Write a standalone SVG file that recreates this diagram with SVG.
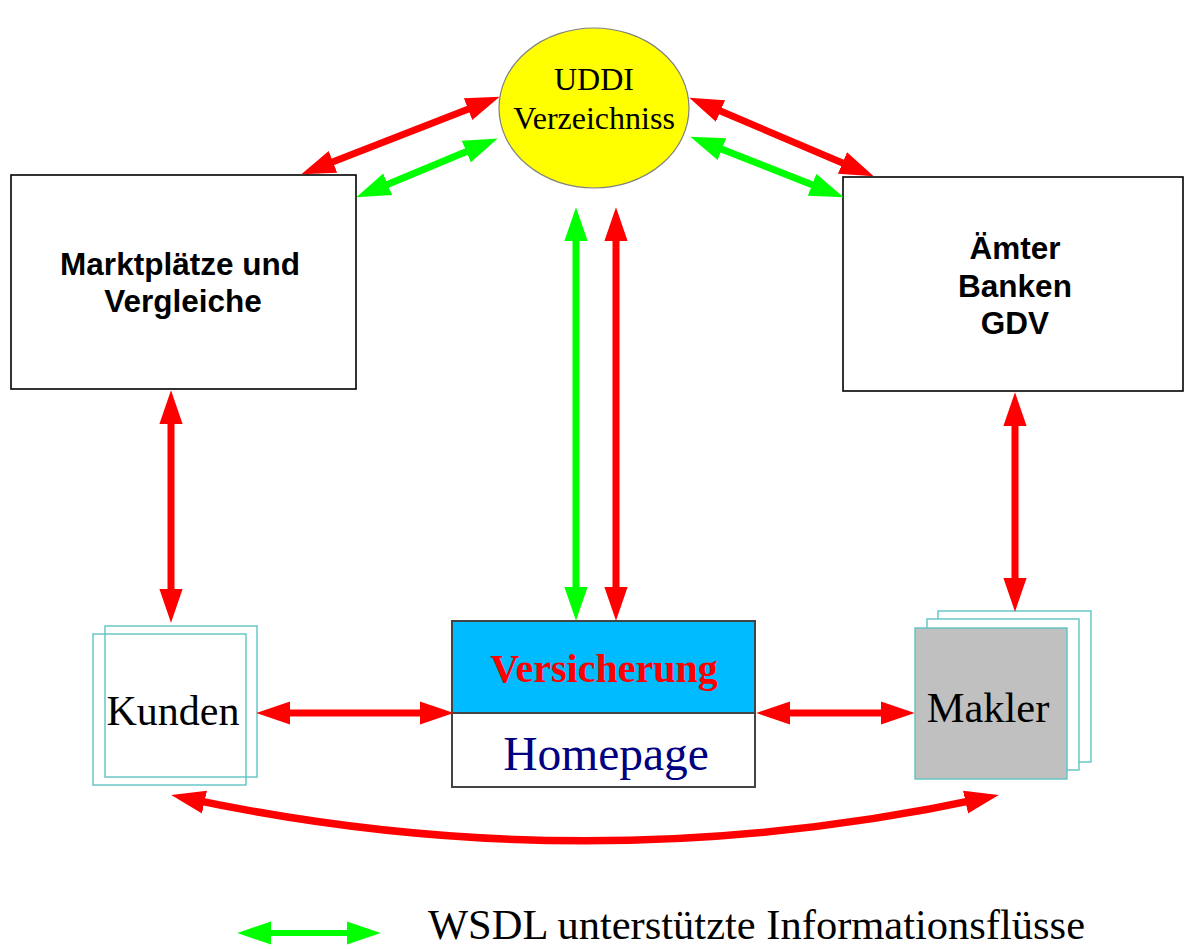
<svg xmlns="http://www.w3.org/2000/svg" width="1184" height="949" viewBox="0 0 1184 949">
<style>
.box{fill:#fff;stroke:#000;stroke-width:1.6}
.bold{font-family:"Liberation Sans",Arial,sans-serif;font-weight:bold;font-size:31.5px;fill:#000;text-anchor:middle}
.serif{font-family:"Liberation Serif","Times New Roman",serif;text-anchor:middle}
.teal{fill:none;stroke:#5fc3c3;stroke-width:1.4}
.r{fill:none;stroke:#ff0000;stroke-width:7}
.g{fill:none;stroke:#00ff00;stroke-width:7}
</style>
<defs>
<marker id="ar" markerUnits="userSpaceOnUse" markerWidth="34" markerHeight="24" viewBox="0 0 32 22" refX="20" refY="11" orient="auto-start-reverse"><path d="M0,0 L32,11 L0,22 z" fill="#ff0000"/></marker>
<marker id="ag" markerUnits="userSpaceOnUse" markerWidth="34" markerHeight="24" viewBox="0 0 32 22" refX="20" refY="11" orient="auto-start-reverse"><path d="M0,0 L32,11 L0,22 z" fill="#00ff00"/></marker>
</defs>
<rect width="1184" height="949" fill="#fff"/>
<g id="uddi">
<ellipse cx="594" cy="108" rx="95" ry="80" fill="#ffff00" stroke="#808080" stroke-width="1.2"/>
<text class="serif" x="594" y="90" font-size="32">UDDI</text>
<text class="serif" x="594" y="129" font-size="32">Verzeichniss</text>
</g>
<g id="marktplaetze">
<rect class="box" x="11" y="175" width="345" height="214"/>
<text class="bold" x="180" y="275">Marktplätze und</text>
<text class="bold" x="183" y="312">Vergleiche</text>
</g>
<g id="aemter">
<rect class="box" x="843" y="177" width="340" height="214"/>
<text class="bold" x="1015" y="259">Ämter</text>
<text class="bold" x="1015" y="297">Banken</text>
<text class="bold" x="1015" y="334">GDV</text>
</g>
<g id="versicherung">
<rect x="452" y="621" width="303" height="92" fill="#00bbff" stroke="#444" stroke-width="2"/>
<rect x="452" y="713" width="303" height="74" fill="#fff" stroke="#444" stroke-width="2"/>
<text class="serif" x="604" y="682" font-size="40" font-weight="bold" fill="#ff0000">Versicherung</text>
<text class="serif" x="606" y="770" font-size="47.5" fill="#000080">Homepage</text>
</g>
<g id="kunden">
<rect class="teal" x="105" y="626" width="152" height="151"/>
<rect class="teal" x="93" y="634" width="153" height="151"/>
<text class="serif" x="173" y="725" font-size="42" fill="#000">Kunden</text>
</g>
<g id="makler">
<rect class="teal" x="938" y="611" width="153" height="151" style="fill:#fff"/>
<rect class="teal" x="927" y="619" width="152" height="151" style="fill:#fff"/>
<rect x="915" y="628" width="152" height="151" fill="#c0c0c0" stroke="#5fc3c3" stroke-width="1.4"/>
<text class="serif" x="988" y="722" font-size="42.5" fill="#000">Makler</text>
</g>
<g id="connectors">
<line class="r" x1="313.2" y1="169.6" x2="487.8" y2="101.4" marker-start="url(#ar)" marker-end="url(#ar)"/>
<line class="g" x1="368.1" y1="192.4" x2="485.9" y2="143.4" marker-start="url(#ag)" marker-end="url(#ag)"/>
<line class="r" x1="701" y1="102.7" x2="862" y2="171.3" marker-start="url(#ar)" marker-end="url(#ar)"/>
<line class="g" x1="702.2" y1="141.4" x2="831.8" y2="192.6" marker-start="url(#ag)" marker-end="url(#ag)"/>
<line class="g" x1="576" y1="220" x2="576" y2="608" marker-start="url(#ag)" marker-end="url(#ag)"/>
<line class="r" x1="616" y1="220" x2="616" y2="608" marker-start="url(#ar)" marker-end="url(#ar)"/>
<line class="r" x1="171" y1="403" x2="171" y2="610" marker-start="url(#ar)" marker-end="url(#ar)"/>
<line class="r" x1="1015" y1="405" x2="1015" y2="599" marker-start="url(#ar)" marker-end="url(#ar)"/>
<line class="r" x1="269" y1="713" x2="441" y2="713" marker-start="url(#ar)" marker-end="url(#ar)"/>
<line class="r" x1="769" y1="713" x2="902" y2="713" marker-start="url(#ar)" marker-end="url(#ar)"/>
<path class="r" d="M183.7,797.6 Q585,884 986.3,797.6" style="stroke-width:7.5" marker-start="url(#ar)" marker-end="url(#ar)"/>
</g>
<g id="legend">
<line class="g" x1="250" y1="933" x2="368" y2="933" style="stroke-width:6" marker-start="url(#ag)" marker-end="url(#ag)"/>
<text class="serif" x="428" y="939" font-size="42.5" fill="#000" style="text-anchor:start">WSDL unterstützte Informationsflüsse</text>
</g>
</svg>
